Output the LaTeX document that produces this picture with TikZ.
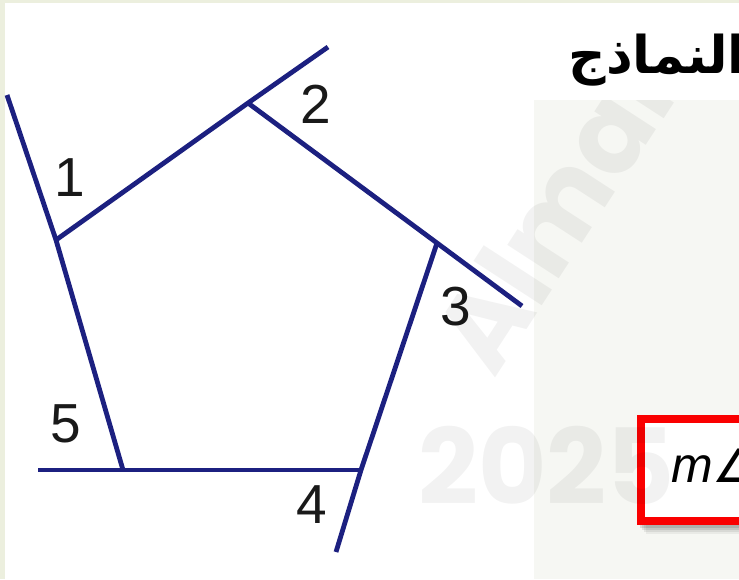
\documentclass[tikz,border=0pt]{standalone}
\usepackage{fontspec}
\setmainfont{Liberation Sans}
\newfontfamily\arabicfont[Script=Arabic]{DejaVu Sans}
\newfontfamily\dvfont{DejaVu Sans}
\newfontfamily\wmfont{Poppins}
\TeXXeTstate=1
\definecolor{navy}{RGB}{28,32,128}
\definecolor{edgebeige}{RGB}{236,239,222}
\definecolor{panelgrey}{RGB}{246,247,243}
\definecolor{boxred}{RGB}{250,0,0}
\tikzset{
  side/.style={draw=navy,line width=4.8pt},
  anglab/.style={font=\fontsize{55}{60}\selectfont,inner sep=0pt,text=black!90},
  wmark/.style={text=black,text opacity=0.05,inner sep=0pt}
}
\begin{document}
\begin{tikzpicture}[x=1pt,y=-1pt]
\useasboundingbox (0,0) rectangle (739,579);
\clip (0,0) rectangle (739,579);
% background
\fill[white] (0,0) rectangle (739,579);
\fill[panelgrey] (534,100) rectangle (739,579);
\fill[edgebeige] (0,0) rectangle (5,579);
\fill[edgebeige] (0,0) rectangle (739,3);
% pentagon vertices and free ends
\coordinate (V1) at (56,240);
\coordinate (V2) at (248,103);
\coordinate (V3) at (437,243);
\coordinate (V4) at (361,470);
\coordinate (V5) at (123,470);
\coordinate (E1) at (7,95);
\coordinate (E2) at (328,47);
\coordinate (E3) at (522,306);
\coordinate (E4) at (336,552);
\coordinate (E5) at (38,470);
% sides with extensions
\draw[side] (E1) -- (V1) -- (V5);
\draw[side] (V1) -- (V2) -- (E2);
\draw[side] (V2) -- (V3) -- (E3);
\draw[side] (V3) -- (V4) -- (E4);
\draw[side] (E5) -- (V5) -- (V4);
% angle labels
\node[anglab] (l1) at (70,178) {1};
\node[anglab] (l2) at (316,104) {2};
\node[anglab] (l3) at (456,307) {3};
\node[anglab] (l4) at (312,505) {4};
\node[anglab] (l5) at (66,424) {5};
% Arabic heading
\node[anchor=base east,inner sep=0pt,font=\arabicfont\bfseries\fontsize{52}{56}\selectfont] (title) at (746,73) {\beginR النماذج\endR};
% red box with shadow
\foreach \d/\o in {9/0.05,7/0.07,5/0.09,3/0.11}{
  \fill[black,opacity=\o] (637+\d,415+\d) rectangle (760,525+\d);
}
\draw[boxred,line width=8pt,fill=white] (641,419) rectangle (760,521);
\node[anchor=base west,inner sep=0pt] (mang) at (671,482) {\fontsize{50}{55}\selectfont\itshape m\dvfont\fontsize{46}{50}\selectfont ∠};
% watermarks
\begin{scope}
\clip (0,100) rectangle (739,579) (0,0) rectangle (534,100);
\node[wmark,anchor=base west,font=\wmfont\bfseries\fontsize{105}{110}\selectfont] (wm2025) at (418,504) {2025};
\node[wmark,anchor=base west,rotate=57,font=\wmfont\bfseries\fontsize{110}{120}\selectfont] (wmname) at (494,380) {Almanahj};
\end{scope}
\end{tikzpicture}
\end{document}
